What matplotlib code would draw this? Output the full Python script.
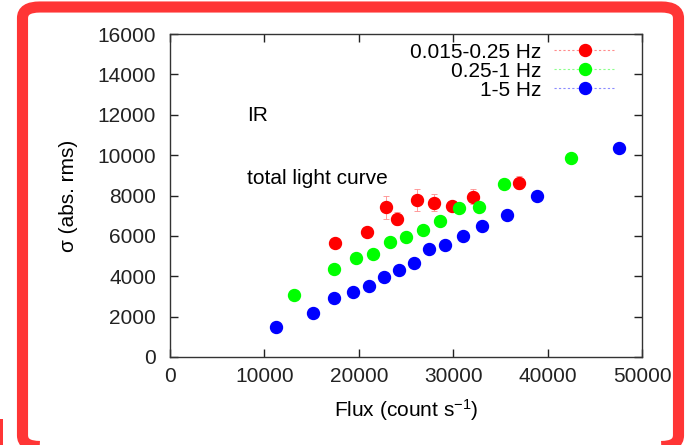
import matplotlib
matplotlib.use("Agg")
import matplotlib.pyplot as plt
from matplotlib.lines import Line2D
from matplotlib.patches import FancyBboxPatch, Rectangle

plt.rcParams['font.family'] = ['Liberation Sans', 'DejaVu Sans']
plt.rcParams['mathtext.fontset'] = 'custom'
plt.rcParams['mathtext.rm'] = 'Liberation Sans'

# === Data ===
red_flux = [17450, 20850, 22850, 24000, 26200, 28000, 29850, 32100, 36950]
red_sigma = [5660, 6200, 7410, 6860, 7770, 7640, 7480, 7950, 8630]
red_err = [200, 150, 550, 300, 560, 420, 250, 350, 320]

green_flux = [13150, 17350, 19700, 21550, 23300, 25050, 26750, 28650, 30650, 32750, 35400, 42450]
green_sigma = [3050, 4340, 4880, 5080, 5720, 5920, 6290, 6750, 7390, 7410, 8550, 9850]
green_err = [80] * len(green_flux)

blue_flux = [11200, 15100, 17400, 19350, 21100, 22700, 24250, 25900, 27450, 29150, 31000, 33100,
             35650, 38900, 47550]
blue_sigma = [1500, 2200, 2900, 3200, 3500, 3980, 4300, 4670, 5350, 5550, 5980, 6470, 7040, 8000, 10360]
blue_err = [60] * len(blue_flux)

labels = ["0.015-0.25 Hz", "0.25-1 Hz", "1-5 Hz"]
x_ticks = [0, 10000, 20000, 30000, 40000, 50000]
y_ticks = list(range(0, 16001, 2000))

fs = 15
ms = 8.6

fig = plt.figure(figsize=(6.89, 4.45), dpi=100)
ax = fig.add_axes([170 / 689, 1 - 357 / 445, 472 / 689, 323 / 445])

series = [
    (red_flux, red_sigma, red_err, 'red', '#ff8c8c'),
    (green_flux, green_sigma, green_err, '#00ff00', '#8cff8c'),
    (blue_flux, blue_sigma, blue_err, 'blue', '#8c8cff'),
]
handles = []
for (fx, sg, er, col, ecol), lab in zip(series, labels):
    ax.errorbar(fx, sg, yerr=er, fmt='o', color=col, ms=ms, mec=col,
                ecolor=ecol, elinewidth=0.6, capsize=2, capthick=0.6, zorder=3)
    handles.append(Line2D([], [], color=ecol, ls=(0, (2, 2)), lw=0.8,
                          marker='o', mfc=col, mec=col, ms=ms))

ax.set_xlim(0, 50000)
ax.set_ylim(0, 16000)
ax.set_xticks(x_ticks)
ax.set_yticks(y_ticks)
ax.tick_params(direction='in', length=6, width=1, top=True, right=True,
               labelsize=fs, colors='#222222')
ax.tick_params(axis='y', pad=10)
ax.tick_params(axis='x', pad=7)
for s in ax.spines.values():
    s.set_color('#333333')
    s.set_linewidth(1)

ax.set_xlabel("Flux (count $\\mathregular{s^{-1}}$)", fontsize=fs, labelpad=8)
ax.set_ylabel("σ (abs. rms)", fontsize=fs, labelpad=14)

ax.text(8150, 11980, "IR", fontsize=fs, va='center', ha='left')
ax.text(8150, 8860, "total light curve", fontsize=fs, va='center', ha='left')

ax.legend(handles, labels, loc='upper right', bbox_to_anchor=(0.976, 1.018),
          frameon=False, markerfirst=False, fontsize=fs, handlelength=3.0,
          handletextpad=0.6, labelspacing=0.0, borderpad=0.2)

# red rounded frame around the figure
frame = FancyBboxPatch((22.5 / 689, -1.5 / 445), 656 / 689, 439.5 / 445,
                       boxstyle="round,pad=0,rounding_size=0.025",
                       transform=fig.transFigure, fill=False,
                       edgecolor='#ff3535', linewidth=8, zorder=10)
fig.patches.append(frame)
fig.patches.append(Rectangle((0, 0), 3 / 689, 26 / 445, transform=fig.transFigure,
                             facecolor='#ff3535', lw=0, zorder=10))

fig.savefig("out.png", dpi=100)
